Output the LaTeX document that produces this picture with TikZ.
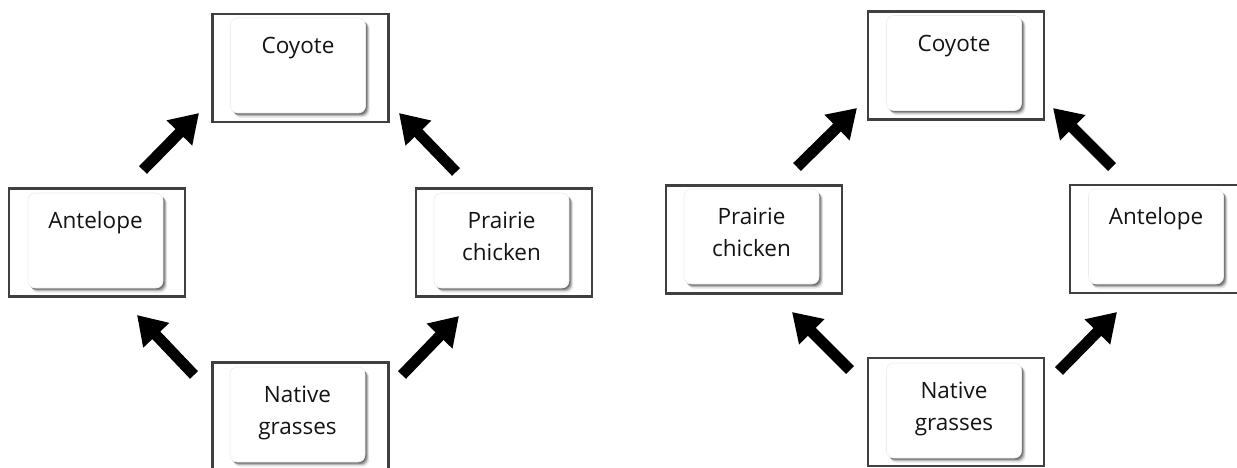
\documentclass[tikz,border=0pt]{standalone}
\usepackage{fontspec}
\setmainfont{Open Sans}
\usetikzlibrary{arrows.meta,shadows}
\tikzset{
  frame/.style={draw=black!75, line width=2.5pt, minimum width=176pt, minimum height=108pt, inner sep=0pt},
  card/.style={fill=white, draw=black!7, line width=0.6pt, rounded corners=7pt, minimum width=135pt, minimum height=95pt, inner sep=0pt,
    drop shadow={shadow xshift=3.5pt, shadow yshift=-4pt, shadow scale=1.01, fill=black, opacity=0.10},
    drop shadow={shadow xshift=3pt, shadow yshift=-3.2pt, fill=black, opacity=0.18},
    drop shadow={shadow xshift=2pt, shadow yshift=-2.2pt, fill=black, opacity=0.25},
    drop shadow={shadow xshift=1pt, shadow yshift=-1.2pt, fill=black, opacity=0.25}},
  lbl/.style={font=\fontsize{22.5}{32}\selectfont, align=center, inner sep=0pt, text=black!92, anchor=base},
  arr/.style={line width=11pt, draw=black, -{Triangle[length=28pt,width=34pt]}}
}
\begin{document}
\begin{tikzpicture}[x=1pt,y=-1pt]
\useasboundingbox (0,0) rectangle (1237,468);
% ---------- left panel ----------
\node[frame] (lcoyF) at (300.5,68) {};
\node[card]  (lcoyC) at (298,65.5) {};
\node[lbl] (lcoyT) at ([yshift=-36pt]lcoyC.north) {Coyote};

\node[frame] (lantF) at (97,242.5) {};
\node[card]  (lantC) at (95.5,240.5) {};
\node[lbl] (lantT) at ([yshift=-36pt]lantC.north) {Antelope};

\node[frame] (lpraF) at (504,242.5) {};
\node[card]  (lpraC) at (501.5,240.5) {};
\node[lbl] (lpraT) at ([yshift=-68pt]lpraC.north) {Prairie\\chicken};

\node[frame] (lnatF) at (300.5,416.5) {};
\node[card]  (lnatC) at (297.5,414.5) {};
\node[lbl] (lnatT) at ([yshift=-68pt]lnatC.north) {Native\\grasses};

\coordinate (la1s) at (143,170); \coordinate (la1e) at (199,113);
\coordinate (la2s) at (456,172); \coordinate (la2e) at (399,113);
\coordinate (la3s) at (194,375); \coordinate (la3e) at (137,315);
\coordinate (la4s) at (402,375); \coordinate (la4e) at (459,316);
\draw[arr] (la1s) -- (la1e);
\draw[arr] (la2s) -- (la2e);
\draw[arr] (la3s) -- (la3e);
\draw[arr] (la4s) -- (la4e);

% ---------- right panel ----------
\node[frame] (rcoyF) at (956,65.5) {};
\node[card]  (rcoyC) at (954,63) {};
\node[lbl] (rcoyT) at ([yshift=-36pt]rcoyC.north) {Coyote};

\node[frame] (rpraF) at (754,239.5) {};
\node[card]  (rpraC) at (751.5,236.5) {};
\node[lbl] (rpraT) at ([yshift=-68pt]rpraC.north) {Prairie\\chicken};

\node[frame] (rantF) at (1158,239) {};
\node[card]  (rantC) at (1156,236.5) {};
\node[lbl] (rantT) at ([yshift=-36pt]rantC.north) {Antelope};

\node[frame] (rnatF) at (956,412) {};
\node[card]  (rnatC) at (954,410.5) {};
\node[lbl] (rnatT) at ([yshift=-68pt]rnatC.north) {Native\\grasses};

\coordinate (ra1s) at (797,167);  \coordinate (ra1e) at (857,108);
\coordinate (ra2s) at (1112,167); \coordinate (ra2e) at (1053,108);
\coordinate (ra3s) at (850,370);  \coordinate (ra3e) at (792,312);
\coordinate (ra4s) at (1059,371); \coordinate (ra4e) at (1117,312);
\draw[arr] (ra1s) -- (ra1e);
\draw[arr] (ra2s) -- (ra2e);
\draw[arr] (ra3s) -- (ra3e);
\draw[arr] (ra4s) -- (ra4e);
\end{tikzpicture}
\end{document}
